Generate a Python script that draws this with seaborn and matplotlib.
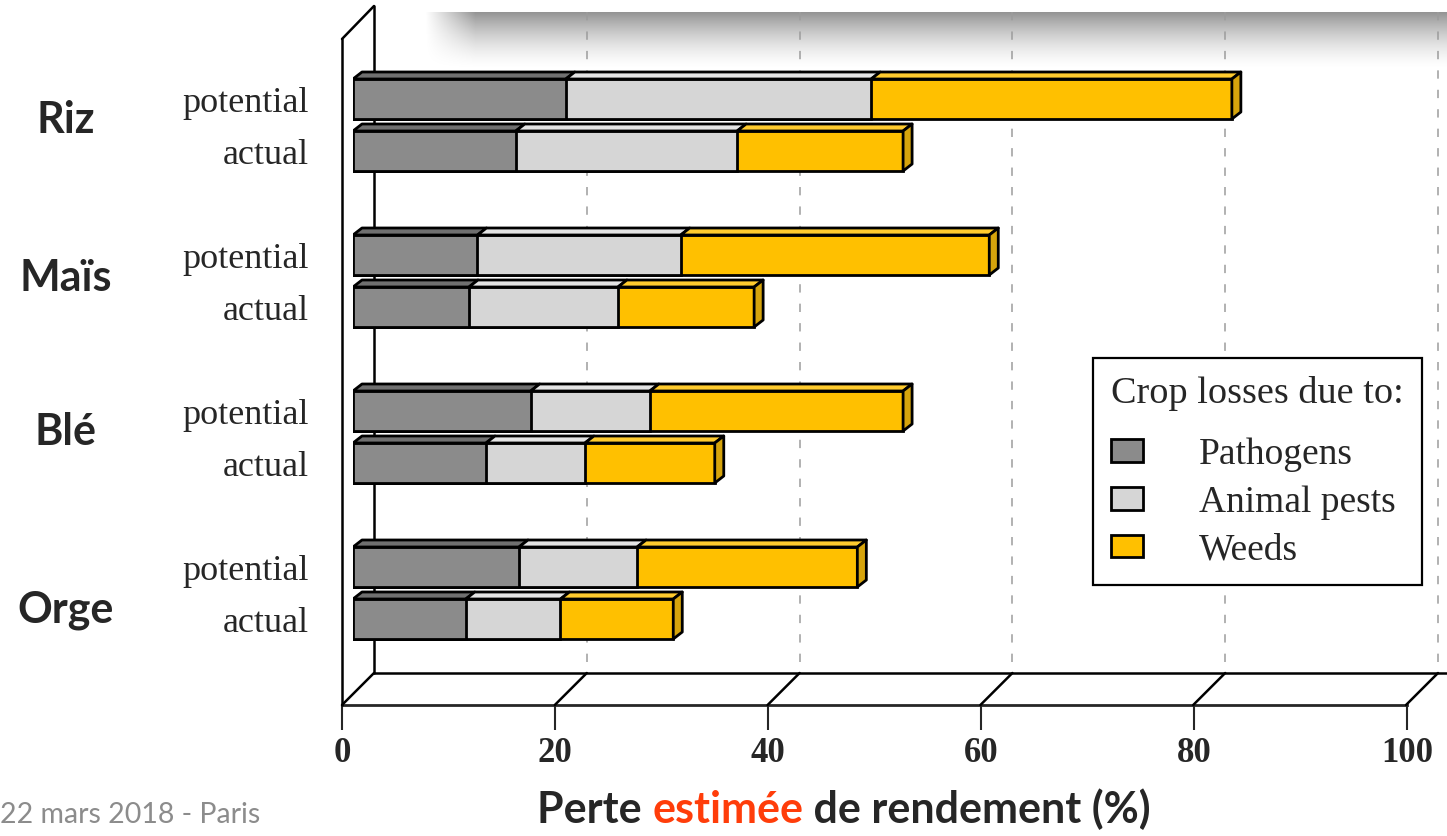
import numpy as np
import pandas as pd
import matplotlib
matplotlib.use("Agg")
import matplotlib.pyplot as plt
from matplotlib.patches import Polygon, Patch, Rectangle
import seaborn as sns

# ---- data -------------------------------------------------------------
crops = ["Riz", "Maïs", "Blé", "Orge"]
scenarios = ["potential", "actual"]
causes = ["Pathogens", "Animal pests", "Weeds"]
# loss (% of attainable yield), one value per crop x scenario row
pathogens = [20.0, 15.3, 11.7, 10.9, 16.7, 12.5, 15.6, 10.6]
animal_pests = [28.7, 20.8, 19.1, 14.0, 11.2, 9.3, 11.1, 8.9]
weeds = [33.9, 15.6, 29.0, 12.8, 23.8, 12.2, 20.7, 10.6]
x_ticks = [0, 20, 40, 60, 80, 100]
legend_title = "Crop losses due to:"
x_label_parts = ["Perte ", "estimée", " de rendement (%)"]
footer = "22 mars 2018 - Paris"

# ---- styling ----------------------------------------------------------
sns.set_style("white")
plt.rcParams["font.family"] = ["Liberation Serif", "DejaVu Serif"]
plt.rcParams["lines.scale_dashes"] = False

face_colors = {"Pathogens": "#8b8b8b", "Animal pests": "#d6d6d6", "Weeds": "#ffc000"}
top_colors = {"Pathogens": "#707070", "Animal pests": "#e4e4e4", "Weeds": "#ffcb2e"}
side_color = "#d6a40c"

W, H = 1447, 836
PX_PER_UNIT = 10.64        # horizontal pixels per percent
ROW_PX = 52                # vertical pixels per row unit
X0_PX, ROW0_PX = 353, 99   # pixel of value 0 on the bar plane / first row centre
BAR_H = 40

def ux(px):  # horizontal pixel distance -> data units
    return px / PX_PER_UNIT

def uy(px):  # vertical pixel distance -> row units
    return px / ROW_PX

fig = plt.figure(figsize=(W / 100, H / 100), dpi=100)
fig.patch.set_facecolor("white")

# background layer: header box with its drop shadow
bg = fig.add_axes([0, 0, 1, 1], zorder=0)
bg.set_xlim(0, W)
bg.set_ylim(H, 0)
bg.axis("off")
sx = np.arange(380, W)
sy = np.arange(0, 75)
fy = np.clip(1 - (sy - 12) / 58.0, 0, 1) ** 1.6 * (sy >= 12)
gx = np.clip((sx - 425) / 50.0, 0, 1)
alpha = 0.42 * fy[:, None] * gx[None, :]
shadow = np.zeros((len(sy), len(sx), 4))
shadow[..., 3] = alpha
bg.imshow(shadow, extent=(380, W, 75, 0), aspect="auto", interpolation="bilinear")
bg.add_patch(Rectangle((471, -2), W - 471 + 5, 14, facecolor="white", edgecolor="none"))

# ---- bars ---------------------------------------------------------------
rows = []
for g, crop in enumerate(crops):
    for s, sc in enumerate(scenarios):
        rows.append((crop, sc, g * 3 + s))
df = pd.DataFrame(rows, columns=["crop", "scenario", "row"])
df["Pathogens"] = pathogens
df["Animal pests"] = animal_pests
df["Weeds"] = weeds
df["end_Pathogens"] = df["Pathogens"]
df["end_Animal pests"] = df["Pathogens"] + df["Animal pests"]
df["end_Weeds"] = df["end_Animal pests"] + df["Weeds"]

ax = fig.add_axes([X0_PX / W, 0, (W - X0_PX) / W, 1], zorder=2)
ax.patch.set_alpha(0)

width = BAR_H / ROW_PX
for cause in causes[::-1]:
    sns.barplot(data=df, x="end_" + cause, y="row", orient="h", native_scale=True,
                width=width, color=face_colors[cause], saturation=1,
                edgecolor="black", linewidth=2, errorbar=None, ax=ax, zorder=5)

ax.set_xlim(0, ux(W - X0_PX))
ax.set_ylim(uy(H - ROW0_PX), -uy(ROW0_PX))

# extruded top faces and the end face of each stacked bar
ddx, ddy = ux(9), -uy(7)
for _, r in df.iterrows():
    yt = r["row"] - width / 2
    yb = r["row"] + width / 2
    start = 0.0
    for cause in causes:
        end = r["end_" + cause]
        ax.add_patch(Polygon([(start, yt), (end, yt), (end + ddx, yt + ddy), (start + ddx, yt + ddy)],
                             closed=True, facecolor=top_colors[cause], edgecolor="black",
                             linewidth=2, joinstyle="round", zorder=6))
        start = end
    ax.add_patch(Polygon([(start, yt), (start + ddx, yt + ddy), (start + ddx, yb + ddy), (start, yb)],
                         closed=True, facecolor=side_color, edgecolor="black",
                         linewidth=2, joinstyle="round", zorder=6))

# ---- 3-D frame: walls, floor and gridlines --------------------------------
dx_front, dx_back = ux(342 - X0_PX), ux(374 - X0_PX)
r_floor_front, r_floor_back = uy(705 - ROW0_PX), uy(673 - ROW0_PX)
r_top_front, r_top_back = uy(39 - ROW0_PX), uy(6 - ROW0_PX)
r_grid_top = uy(12 - ROW0_PX)
frame_kw = dict(color="black", linewidth=1.8, clip_on=False, solid_capstyle="round")

ax.plot([dx_front, dx_front], [r_floor_front, r_top_front], zorder=1, **frame_kw)
ax.plot([dx_front, dx_back], [r_top_front, r_top_back], zorder=1, **frame_kw)
ax.plot([dx_back, dx_back], [r_top_back, r_floor_back], zorder=1, **frame_kw)
ax.plot([dx_back, 105], [r_floor_back, r_floor_back], zorder=1, **frame_kw)
for v in x_ticks:
    ax.plot([v + dx_front, v + dx_back], [r_floor_front, r_floor_back], zorder=1, **frame_kw)
for v in x_ticks[1:]:
    ax.plot([v + dx_back, v + dx_back], [r_grid_top, r_floor_back], color="#9c9c9c",
            linewidth=1.1, dashes=(6, 8), clip_on=False, zorder=1)

# row labels
ax.set_yticks(df["row"])
ax.set_yticklabels(df["scenario"], fontsize=26, family=["Liberation Serif"])
ax.tick_params(axis="y", length=0, pad=32)
ax.set_xticks([])
ax.set_xlabel("")
ax.set_ylabel("")
for sp in ax.spines.values():
    sp.set_visible(False)

# ---- front value axis -----------------------------------------------------
ax2 = fig.add_axes([342 / W, (H - 705) / H, 1065 / W, 1e-4], zorder=1)
ax2.patch.set_alpha(0)
ax2.set_xlim(0, 100)
ax2.set_xticks(x_ticks)
ax2.set_xticklabels([str(t) for t in x_ticks], fontsize=25, fontweight="bold",
                    family=["Liberation Serif"])
ax2.set_yticks([])
ax2.tick_params(axis="x", direction="out", length=18, width=1.5, pad=5, bottom=True)
for name, sp in ax2.spines.items():
    sp.set_visible(name == "bottom")
ax2.spines["bottom"].set_linewidth(2)

# ---- legend ------------------------------------------------------------
handles = [Patch(facecolor=face_colors[c], edgecolor="black", linewidth=2) for c in causes]
leg = ax.legend(handles, causes, title=legend_title, loc="upper left",
                bbox_to_anchor=(1093 / W, 1 - 358 / H), bbox_transform=fig.transFigure,
                prop={"family": "Liberation Serif", "size": 27},
                title_fontproperties={"family": "Liberation Serif", "size": 27.5},
                alignment="left", frameon=True, fancybox=False, framealpha=1,
                edgecolor="black", handlelength=0.85, handleheight=0.55,
                handletextpad=1.5, labelspacing=0.35, borderpad=0.48,
                borderaxespad=0)
leg._legend_box.sep = 19
leg.get_frame().set_linewidth(1.6)
leg.set_zorder(10)

# ---- crop names, axis title, footer --------------------------------------
crop_y_px = [120, 278, 432, 610]
for name, ypx in zip(crops, crop_y_px):
    fig.text(66 / W, 1 - ypx / H, name, ha="center", va="center",
             fontsize=31, fontweight="bold", family=["Lato", "DejaVu Sans"])

lab_kw = dict(fontsize=31, fontweight="bold", family=["Lato", "DejaVu Sans"])
t1 = fig.text(537 / W, 1 - 810 / H, x_label_parts[0], ha="left", va="center", **lab_kw)
t2 = ax.annotate(x_label_parts[1], xycoords=t1, xy=(1, 0), va="bottom", ha="left",
                 color="#ff3d0a", annotation_clip=False, **lab_kw)
t3 = ax.annotate(x_label_parts[2], xycoords=t2, xy=(1, 0), va="bottom", ha="left",
                 annotation_clip=False, **lab_kw)

fig.text(0, 1 - 815 / H, footer, ha="left", va="center", color="#8c8c8c",
         fontsize=20.5, family=["Lato", "DejaVu Sans"])

fig.savefig("out.png", dpi=100)
